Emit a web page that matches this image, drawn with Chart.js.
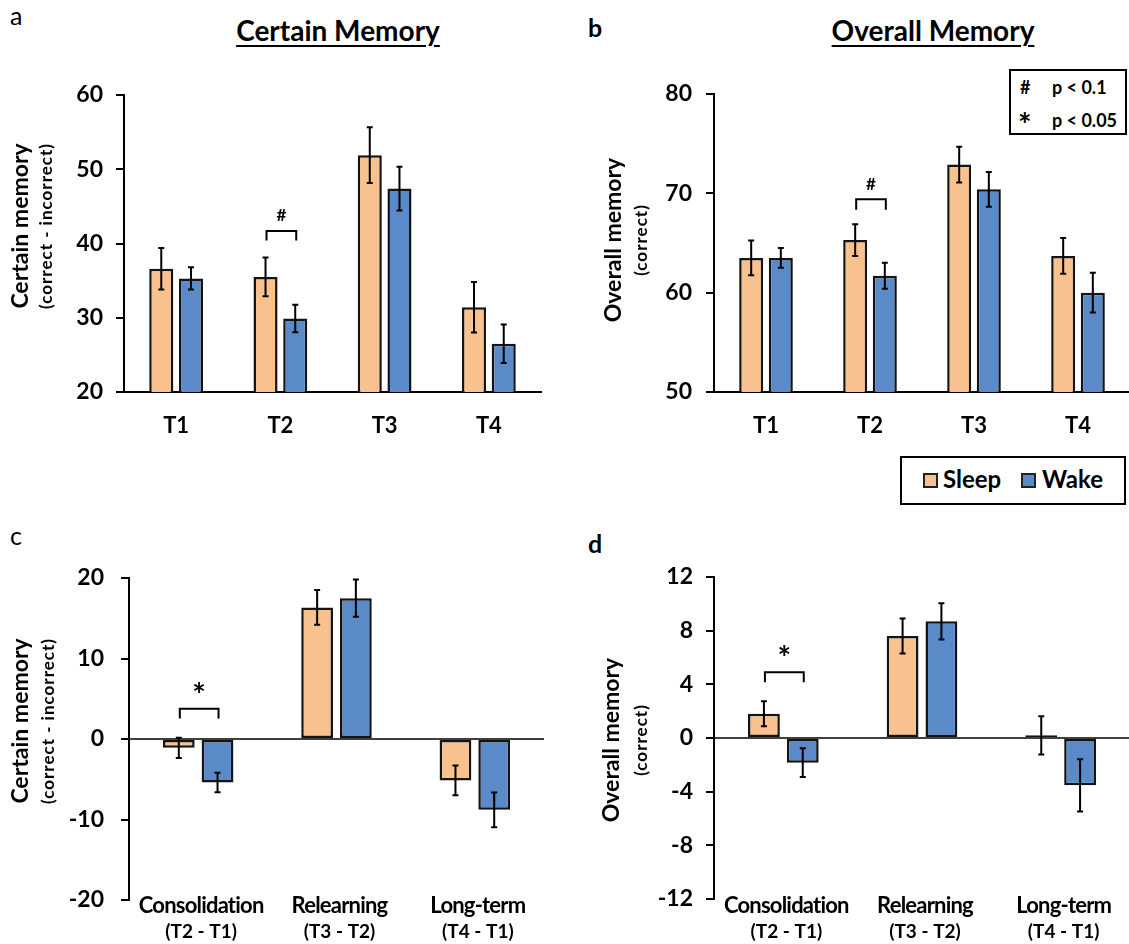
<!DOCTYPE html>
<html>
<head>
<meta charset="utf-8">
<script src="https://cdn.jsdelivr.net/npm/chart.js@4.4.0/dist/chart.umd.min.js"></script>
<style>
  body { margin: 0; width: 1129px; height: 944px; overflow: hidden; background: #fff; position: relative; font-family: Lato, sans-serif; color: #000; }
  canvas { position: absolute; }
  .t { position: absolute; white-space: nowrap; }
  .title { font-size: 28px; font-weight: bold; text-decoration: underline; text-underline-offset: 4px; text-decoration-thickness: 2px; text-align: center; width: 300px; line-height: 30px; }
  .box { position: absolute; border: 2px solid #000; box-sizing: border-box; background: #fff; }
  .sw { position: absolute; width: 15px; height: 15px; border: 2px solid #222; box-sizing: border-box; }
</style>
</head>
<body>

<div class="t" style="left:10px;top:0px;font-size:25px;">a</div>
<div class="t" style="left:588px;top:12px;font-size:25px;font-weight:bold;">b</div>
<div class="t" style="left:10px;top:520px;font-size:25px;">c</div>
<div class="t" style="left:588px;top:528px;font-size:25px;font-weight:bold;">d</div>

<div class="t title" style="left:188px;top:15px;">Certain Memory</div>
<div class="t title" style="left:783px;top:15px;">Overall Memory</div>

<div class="box" style="left:1009px;top:69px;width:118px;height:66px;font-size:18px;font-weight:bold;">
  <div class="t" style="left:9px;top:5px;">#</div><div class="t" style="left:41px;top:5px;">p &lt; 0.1</div>
  <div class="t" style="left:7px;top:38px;font-size:32px;line-height:32px;">*</div><div class="t" style="left:41px;top:38px;">p &lt; 0.05</div>
</div>

<div class="box" id="legend" style="left:900px;top:456px;width:226px;height:49px;font-size:24px;font-weight:bold;"></div>

<canvas id="chartA" width="560" height="390" style="left:0;top:60px;"></canvas>
<canvas id="chartB" width="560" height="390" style="left:570px;top:60px;"></canvas>
<canvas id="chartC" width="560" height="404" style="left:0;top:540px;"></canvas>
<canvas id="chartD" width="560" height="404" style="left:570px;top:540px;"></canvas>

<script>
// ---- data ----
var timeLabels = ["T1", "T2", "T3", "T4"];
var changeLabels = ["Consolidation", "Relearning", "Long-term"];
var changeSubLabels = ["(T2 - T1)", "(T3 - T2)", "(T4 - T1)"];
var groupNames = ["Sleep", "Wake"];
var groupColors = ["#F8C18D", "#5A8AC8"];

var certainSleep = [36.6, 35.5, 51.9, 31.4];
var certainSleepErr = [2.8, 2.6, 3.75, 3.4];
var certainWake = [35.3, 29.9, 47.4, 26.5];
var certainWakeErr = [1.5, 1.85, 2.95, 2.6];

var overallSleep = [63.5, 65.3, 72.9, 63.7];
var overallSleepErr = [1.75, 1.6, 1.8, 1.8];
var overallWake = [63.5, 61.7, 70.4, 60.0];
var overallWakeErr = [1.0, 1.3, 1.75, 2.0];

var certainChangeSleep = [-1.1, 16.35, -5.15];
var certainChangeSleepErr = [1.25, 2.15, 1.85];
var certainChangeWake = [-5.4, 17.5, -8.8];
var certainChangeWakeErr = [1.2, 2.3, 2.15];

var overallChangeSleep = [1.8, 7.6, 0.2];
var overallChangeSleepErr = [0.93, 1.3, 1.43];
var overallChangeWake = [-1.84, 8.7, -3.53];
var overallChangeWakeErr = [1.07, 1.35, 1.94];

// significance brackets (category index, bracket top / feet in axis units)
var sigA = { index: 1, top: 41.7, foot: 40.4, mark: "#" };
var sigB = { index: 1, top: 69.4, foot: 68.35, mark: "#" };
var sigC = { index: 0, top: 3.75, foot: 2.55, mark: "*" };
var sigD = { index: 0, top: 4.9, foot: 4.15, mark: "*" };

var FONT = "Lato";

// legend (html)
var legend = document.getElementById("legend");
var legX = [[21, 41], [119, 140]];
groupNames.forEach(function (name, i) {
  legend.innerHTML += '<div class="sw" style="left:' + legX[i][0] + 'px;top:15px;background:' + groupColors[i] + '"></div>' +
    '<div class="t" style="left:' + legX[i][1] + 'px;top:6px;">' + name + '</div>';
});

// ---- plugins ----
var errorBars = {
  id: "errorBars",
  afterDatasetsDraw: function (chart) {
    var ctx = chart.ctx, y = chart.scales.y;
    ctx.save();
    ctx.strokeStyle = "#000";
    ctx.lineWidth = 2;
    chart.data.datasets.forEach(function (ds, di) {
      chart.getDatasetMeta(di).data.forEach(function (bar, i) {
        var top = y.getPixelForValue(ds.data[i] + ds.errors[i]);
        var bot = y.getPixelForValue(ds.data[i] - ds.errors[i]);
        ctx.beginPath();
        ctx.moveTo(bar.x, top); ctx.lineTo(bar.x, bot);
        ctx.moveTo(bar.x - 3, top); ctx.lineTo(bar.x + 3, top);
        ctx.moveTo(bar.x - 3, bot); ctx.lineTo(bar.x + 3, bot);
        ctx.stroke();
      });
    });
    ctx.restore();
  }
};

var zeroLine = {
  id: "zeroLine",
  beforeDatasetsDraw: function (chart, args, opts) {
    if (!opts.show) return;
    var ctx = chart.ctx, a = chart.chartArea, y0 = chart.scales.y.getPixelForValue(0);
    ctx.save();
    ctx.strokeStyle = "#000";
    ctx.lineWidth = 1.5;
    ctx.beginPath();
    ctx.moveTo(a.left, y0); ctx.lineTo(a.right, y0);
    ctx.stroke();
    ctx.restore();
  }
};

var sigBracket = {
  id: "sigBracket",
  afterDatasetsDraw: function (chart, args, opts) {
    if (!opts.mark) return;
    var ctx = chart.ctx, y = chart.scales.y;
    var x1 = chart.getDatasetMeta(0).data[opts.index].x + 1;
    var x2 = chart.getDatasetMeta(1).data[opts.index].x + 1;
    var yt = y.getPixelForValue(opts.top), yf = y.getPixelForValue(opts.foot);
    ctx.save();
    ctx.strokeStyle = "#000";
    ctx.lineWidth = 2;
    ctx.beginPath();
    ctx.moveTo(x1, yf); ctx.lineTo(x1, yt); ctx.lineTo(x2, yt); ctx.lineTo(x2, yf);
    ctx.stroke();
    ctx.fillStyle = "#000";
    ctx.textAlign = "center";
    if (opts.mark === "*") {
      ctx.textBaseline = "alphabetic";
      ctx.font = "bold 32px " + FONT;
      ctx.fillText(opts.mark, (x1 + x2) / 2, yt - 2);
    } else {
      ctx.textBaseline = "middle";
      ctx.font = "bold 17px " + FONT;
      ctx.fillText(opts.mark, (x1 + x2) / 2, yt - 15);
    }
    ctx.restore();
  }
};

var axisTitle = {
  id: "axisTitle",
  afterDraw: function (chart, args, opts) {
    if (!opts.main) return;
    var ctx = chart.ctx;
    ctx.save();
    ctx.fillStyle = "#000";
    ctx.textAlign = "center";
    ctx.textBaseline = "middle";
    ctx.translate(opts.x, opts.cy);
    ctx.rotate(-Math.PI / 2);
    ctx.font = "bold 23px " + FONT;
    ctx.fillText(opts.main, 0, 0);
    ctx.restore();
    ctx.save();
    ctx.fillStyle = "#000";
    ctx.textAlign = "center";
    ctx.textBaseline = "middle";
    ctx.translate(opts.subX, opts.cy);
    ctx.rotate(-Math.PI / 2);
    ctx.font = "bold 17px " + FONT;
    if ("letterSpacing" in ctx) ctx.letterSpacing = "1px";
    ctx.fillText(opts.sub, 0, 0);
    ctx.restore();
  }
};

var categoryText = {
  id: "categoryText",
  afterDraw: function (chart, args, opts) {
    if (!opts.lines) return;
    var ctx = chart.ctx, x = chart.scales.x;
    ctx.save();
    ctx.fillStyle = "#000";
    ctx.textAlign = "center";
    ctx.textBaseline = "alphabetic";
    opts.lines[0].forEach(function (txt, i) {
      var cx = x.getPixelForValue(i) + 3;
      ctx.font = "bold 22px " + FONT;
      if ("letterSpacing" in ctx) ctx.letterSpacing = "-0.8px";
      ctx.fillText(txt, cx, opts.y1);
      if ("letterSpacing" in ctx) ctx.letterSpacing = "0px";
      ctx.font = "bold 19px " + FONT;
      ctx.fillText(opts.lines[1][i], cx, opts.y2);
    });
    ctx.restore();
  }
};

function makeChart(id, cfg) {
  var datasets = [cfg.sleep, cfg.wake].map(function (vals, i) {
    return {
      label: groupNames[i],
      data: vals,
      errors: [cfg.sleepErr, cfg.wakeErr][i],
      backgroundColor: groupColors[i],
      borderColor: "#141414",
      borderWidth: 2.5,
      borderSkipped: false,
      categoryPercentage: cfg.catPct,
      barPercentage: cfg.barPct
    };
  });
  return new Chart(document.getElementById(id), {
    type: "bar",
    data: { labels: cfg.labels, datasets: datasets },
    plugins: [zeroLine, errorBars, sigBracket, axisTitle, categoryText],
    options: {
      responsive: false,
      animation: false,
      events: [],
      layout: { padding: cfg.padding },
      plugins: {
        legend: { display: false },
        tooltip: { enabled: false },
        zeroLine: { show: cfg.zero },
        sigBracket: cfg.sig,
        axisTitle: cfg.title,
        categoryText: cfg.catText || {}
      },
      scales: {
        x: {
          display: cfg.showX,
          grid: { display: false, drawTicks: false },
          border: { display: true, color: "#000", width: 2 },
          ticks: { color: "#000", padding: 21, font: { family: FONT, size: 22, weight: "bold" } },
          afterFit: function (s) { s.height = cfg.showX ? 50 : 0; }
        },
        y: {
          min: cfg.min, max: cfg.max,
          grid: { display: true, drawOnChartArea: false, drawTicks: true, tickLength: 8, color: "#000", lineWidth: 2 },
          border: { display: true, color: "#000", width: 2 },
          ticks: { stepSize: cfg.step, color: "#000", padding: cfg.tickPad, font: { family: FONT, size: 23, weight: "bold" } },
          afterFit: function (s) { s.width = 60; }
        }
      }
    }
  });
}

makeChart("chartA", {
  labels: timeLabels, sleep: certainSleep, sleepErr: certainSleepErr, wake: certainWake, wakeErr: certainWakeErr,
  min: 20, max: 60, step: 10, tickPad: 13, catPct: 0.57, barPct: 0.81, showX: true, zero: false,
  padding: { left: 64, right: 19, top: 35, bottom: 8 },
  sig: sigA,
  title: { main: "Certain memory", sub: "(correct - incorrect)", x: 21, subX: 47, cy: 166 }
});

makeChart("chartB", {
  labels: timeLabels, sleep: overallSleep, sleepErr: overallSleepErr, wake: overallWake, wakeErr: overallWakeErr,
  min: 50, max: 80, step: 10, tickPad: 14, catPct: 0.57, barPct: 0.81, showX: true, zero: false,
  padding: { left: 84, right: 0, top: 34, bottom: 8 },
  sig: sigB,
  title: { main: "Overall memory", sub: "(correct)", x: 44, subX: 72, cy: 180 }
});

makeChart("chartC", {
  labels: changeLabels, sleep: certainChangeSleep, sleepErr: certainChangeSleepErr, wake: certainChangeWake, wakeErr: certainChangeWakeErr,
  min: -20, max: 20, step: 10, tickPad: 17, catPct: 0.56, barPct: 0.82, showX: false, zero: true,
  padding: { left: 69, right: 16, top: 38, bottom: 44 },
  sig: sigC,
  title: { main: "Certain memory", sub: "(correct - incorrect)", x: 21, subX: 49, cy: 181 },
  catText: { lines: [changeLabels, changeSubLabels], y1: 373, y2: 398 }
});

makeChart("chartD", {
  labels: changeLabels, sleep: overallChangeSleep, sleepErr: overallChangeSleepErr, wake: overallChangeWake, wakeErr: overallChangeWakeErr,
  min: -12, max: 12, step: 4, tickPad: 13, catPct: 0.56, barPct: 0.82, showX: false, zero: true,
  padding: { left: 84, right: 0, top: 37, bottom: 45 },
  sig: sigD,
  title: { main: "Overall memory", sub: "(correct)", x: 42, subX: 72, cy: 200 },
  catText: { lines: [changeLabels, changeSubLabels], y1: 373, y2: 398 }
});
</script>
</body>
</html>
